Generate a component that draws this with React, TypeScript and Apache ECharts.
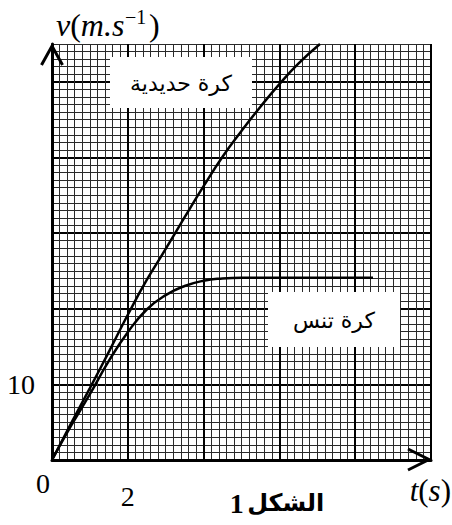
import React, { useEffect, useRef } from "react";
import * as echarts from "echarts";

// Iron ball (كرة حديدية) speed readings
const timeIron = [0, 0.5, 1, 1.5, 2, 2.5, 3, 3.5, 4, 4.5, 5, 5.5, 6, 6.5, 7.07];
const speedIron = [0, 4.8, 9.5, 14.3, 19.2, 23.8, 27.9, 32.1, 36.2, 40.1, 43.5, 46.7, 49.7, 52.4, 55];
// Tennis ball (كرة تنس) speed readings
const timeTennis = [0, 0.5, 1, 1.5, 2, 2.5, 3, 3.5, 4, 4.5, 5, 5.5, 6, 7, 8, 8.47];
const speedTennis = [0, 4.5, 8.7, 13.1, 16.9, 19.9, 21.8, 23.0, 23.7, 24.0, 24.1, 24.1, 24.1, 24.1, 24.1, 24.1];

const xLabelValues = [2];
const yLabelValues = [10];
const ironName = "كرة حديدية";
const tennisName = "كرة تنس";
const figureTitle = "الشكل";
const figureNumber = "1";

const SERIF = "'Liberation Serif', 'Times New Roman', serif";
const ARABIC = "'DejaVu Sans', sans-serif";

export default function App() {
  const ref = useRef<HTMLDivElement>(null);
  useEffect(() => {
    document.body.style.margin = "0";
    const chart = echarts.init(ref.current!, null, { renderer: "svg" });
    const iron = timeIron.map((t, i) => [t, speedIron[i]]);
    const tennis = timeTennis.map((t, i) => [t, speedTennis[i]]);
    chart.setOption({
      animation: false,
      backgroundColor: "#fff",
      grid: { left: 52, right: 21, top: 44, bottom: 65, containLabel: false },
      xAxis: {
        type: "value",
        min: 0,
        max: 10,
        interval: 2,
        axisLine: { show: true, onZero: false, lineStyle: { color: "#000", width: 3 } },
        axisTick: { show: false },
        axisLabel: {
          margin: 22,
          fontFamily: SERIF,
          fontSize: 28,
          color: "#000",
          formatter: (v: number) => (xLabelValues.includes(v) ? String(v) : ""),
        },
        splitLine: { show: true, lineStyle: { color: "#000", width: 2 } },
        minorTick: { show: false, splitNumber: 10 },
        minorSplitLine: { show: true, lineStyle: { color: "#2a2a2a", width: 1 } },
      },
      yAxis: [
        {
          type: "value",
          min: 0,
          max: 55,
          interval: 1,
          position: "left",
          axisLine: { show: false },
          axisTick: { show: false },
          axisLabel: { show: false },
          splitLine: { show: true, lineStyle: { color: "#2a2a2a", width: 1 } },
        },
        {
          type: "value",
          min: 0,
          max: 55,
          interval: 10,
          position: "left",
          axisLine: { show: true, onZero: false, lineStyle: { color: "#000", width: 3 } },
          axisTick: { show: false },
          axisLabel: {
            margin: 17,
            fontFamily: SERIF,
            fontSize: 28,
            color: "#000",
            showMaxLabel: false,
            formatter: (v: number) => (yLabelValues.includes(v) ? String(v) : ""),
          },
          splitLine: { show: true, showMaxLine: false, lineStyle: { color: "#000", width: 2 } },
        },
      ],
      series: [
        {
          type: "line",
          name: ironName,
          data: iron,
          smooth: true,
          showSymbol: false,
          symbol: "none",
          lineStyle: { color: "#000", width: 2.5 },
          z: 5,
        },
        {
          type: "line",
          name: tennisName,
          data: tennis,
          smooth: true,
          showSymbol: false,
          symbol: "none",
          lineStyle: { color: "#000", width: 2.5 },
          z: 5,
        },
      ],
      graphic: [
        // y-axis arrow
        {
          type: "polyline",
          z: 20,
          shape: { points: [[41.5, 65], [52, 46], [62.5, 65]] },
          style: { stroke: "#000", lineWidth: 3, fill: "none" },
        },
        // x-axis arrow
        {
          type: "polyline",
          z: 20,
          shape: { points: [[408, 449], [429, 459.5], [408, 470]] },
          style: { stroke: "#000", lineWidth: 3, fill: "none" },
        },
        // iron legend box
        {
          type: "rect",
          z: 20,
          shape: { x: 110, y: 57, width: 142, height: 51 },
          style: { fill: "#fff" },
        },
        {
          type: "text",
          z: 21,
          x: 181,
          y: 83,
          style: {
            text: ironName,
            font: `22px ${ARABIC}`,
            fill: "#000",
            align: "center",
            verticalAlign: "middle",
          },
        },
        // tennis legend box
        {
          type: "rect",
          z: 20,
          shape: { x: 268, y: 292, width: 132, height: 55 },
          style: { fill: "#fff" },
        },
        {
          type: "text",
          z: 21,
          x: 334,
          y: 320,
          style: {
            text: tennisName,
            font: `22px ${ARABIC}`,
            fill: "#000",
            align: "center",
            verticalAlign: "middle",
          },
        },
        // y axis name
        {
          type: "text",
          z: 21,
          x: 56,
          y: 25,
          style: {
            text: "{i|v}{n|(}{i|m.s}",
            rich: {
              i: { fontFamily: SERIF, fontSize: 32, fontStyle: "italic", fill: "#000" },
              n: { fontFamily: SERIF, fontSize: 32, fill: "#000" },
            },
            align: "left",
            verticalAlign: "middle",
          },
        },
        {
          type: "text",
          z: 21,
          x: 125,
          y: 17,
          style: {
            text: "−1",
            font: `20px ${SERIF}`,
            fill: "#000",
            align: "left",
            verticalAlign: "middle",
          },
        },
        {
          type: "text",
          z: 21,
          x: 149,
          y: 25,
          style: {
            text: ")",
            font: `32px ${SERIF}`,
            fill: "#000",
            align: "left",
            verticalAlign: "middle",
          },
        },
        // x axis name
        {
          type: "text",
          z: 21,
          x: 451,
          y: 490,
          style: {
            text: "{i|t}{n|(}{i|s}{n|)}",
            rich: {
              i: { fontFamily: SERIF, fontSize: 31, fontStyle: "italic", fill: "#000" },
              n: { fontFamily: SERIF, fontSize: 31, fill: "#000" },
            },
            align: "right",
            verticalAlign: "middle",
          },
        },
        // origin label
        {
          type: "text",
          z: 21,
          x: 43,
          y: 483,
          style: {
            text: "0",
            font: `28px ${SERIF}`,
            fill: "#000",
            align: "center",
            verticalAlign: "middle",
          },
        },
        // figure caption
        {
          type: "text",
          z: 21,
          x: 277,
          y: 503,
          style: {
            text: `{n|${figureNumber}} {a|${figureTitle}}`,
            rich: {
              n: { fontFamily: SERIF, fontSize: 28, fontWeight: "bold", fill: "#000" },
              a: { fontFamily: ARABIC, fontSize: 24, fontWeight: "bold", fill: "#000" },
            },
            align: "center",
            verticalAlign: "middle",
          },
        },
      ],
    });
    return () => chart.dispose();
  }, []);
  return <div ref={ref} style={{ width: 452, height: 525 }} />;
}
